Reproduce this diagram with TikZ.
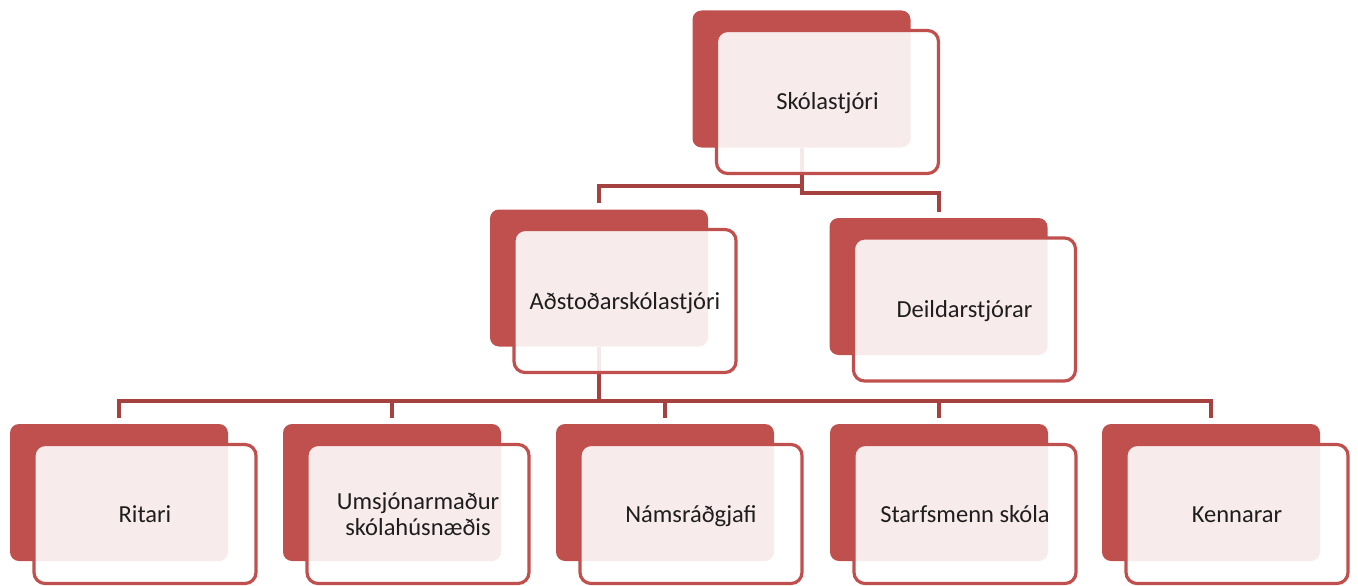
\documentclass[tikz,border=0pt]{standalone}
\usepackage{fontspec}
\setmainfont{Carlito}
\usetikzlibrary{calc}
\definecolor{boxred}{RGB}{192,80,77}
\definecolor{linkred}{RGB}{165,65,62}
\definecolor{txt}{RGB}{30,30,30}
\begin{document}
\begin{tikzpicture}[x=1pt,y=-1pt,
  backbox/.style={fill=boxred, draw=none, rounded corners=9pt, minimum width=218pt, minimum height=137pt, inner sep=0pt},
  frontbox/.style={draw=boxred, line width=3.2pt, fill=white, fill opacity=0.89, text opacity=1, rounded corners=11pt,
    minimum width=222pt, minimum height=143pt, inner sep=0pt, font=\fontsize{24.5}{26}\selectfont, text=txt, align=center},
  lowbox/.style={minimum height=139pt},
  oneline/.style={text height=16pt, text depth=0pt},
  link/.style={draw=linkred, line width=4pt, shorten >=6pt},
  fshift/.style={shift={(26,23)}},
  lshift/.style={shift={(26,21.5)}}
]
\useasboundingbox (0,0) rectangle (1358,586);
% back boxes
\node[backbox] (sb) at (801.5,79) {};
\node[backbox] (ab) at (599,278) {};
\node[backbox] (db) at (938.5,286.5) {};
\node[backbox] (b1) at (119,492.5) {};
\node[backbox] (b2) at (392,492.5) {};
\node[backbox] (b3) at (665,492.5) {};
\node[backbox] (b4) at (939,492.5) {};
\node[backbox] (b5) at (1211,492.5) {};
% connectors
\draw[link] (sb.south) -- ++(0,38) -| (ab.north);
\draw[link] (sb.south) -- ++(0,45) -| (db.north);
\foreach \n in {b1,b2,b3,b4,b5}
  \draw[link] (ab.south) -- ++(0,54) -| (\n.north);
% front boxes
\node[frontbox, oneline] (sf) at ([fshift]sb.center) {Skólastjóri};
\node[frontbox, oneline] (af) at ([fshift]ab.center) {Aðstoðarskólastjóri};
\node[frontbox, oneline] (df) at ([fshift]db.center) {Deildarstjórar};
\node[frontbox, lowbox, oneline] (f1) at ([lshift]b1.center) {Ritari};
\node[frontbox, lowbox] (f2) at ([lshift]b2.center) {Umsjónarmaður\\skólahúsnæðis};
\node[frontbox, lowbox, oneline] (f3) at ([lshift]b3.center) {Námsráðgjafi};
\node[frontbox, lowbox, oneline] (f4) at ([lshift]b4.center) {Starfsmenn skóla};
\node[frontbox, lowbox, oneline] (f5) at ([lshift]b5.center) {Kennarar};
\end{tikzpicture}
\end{document}
